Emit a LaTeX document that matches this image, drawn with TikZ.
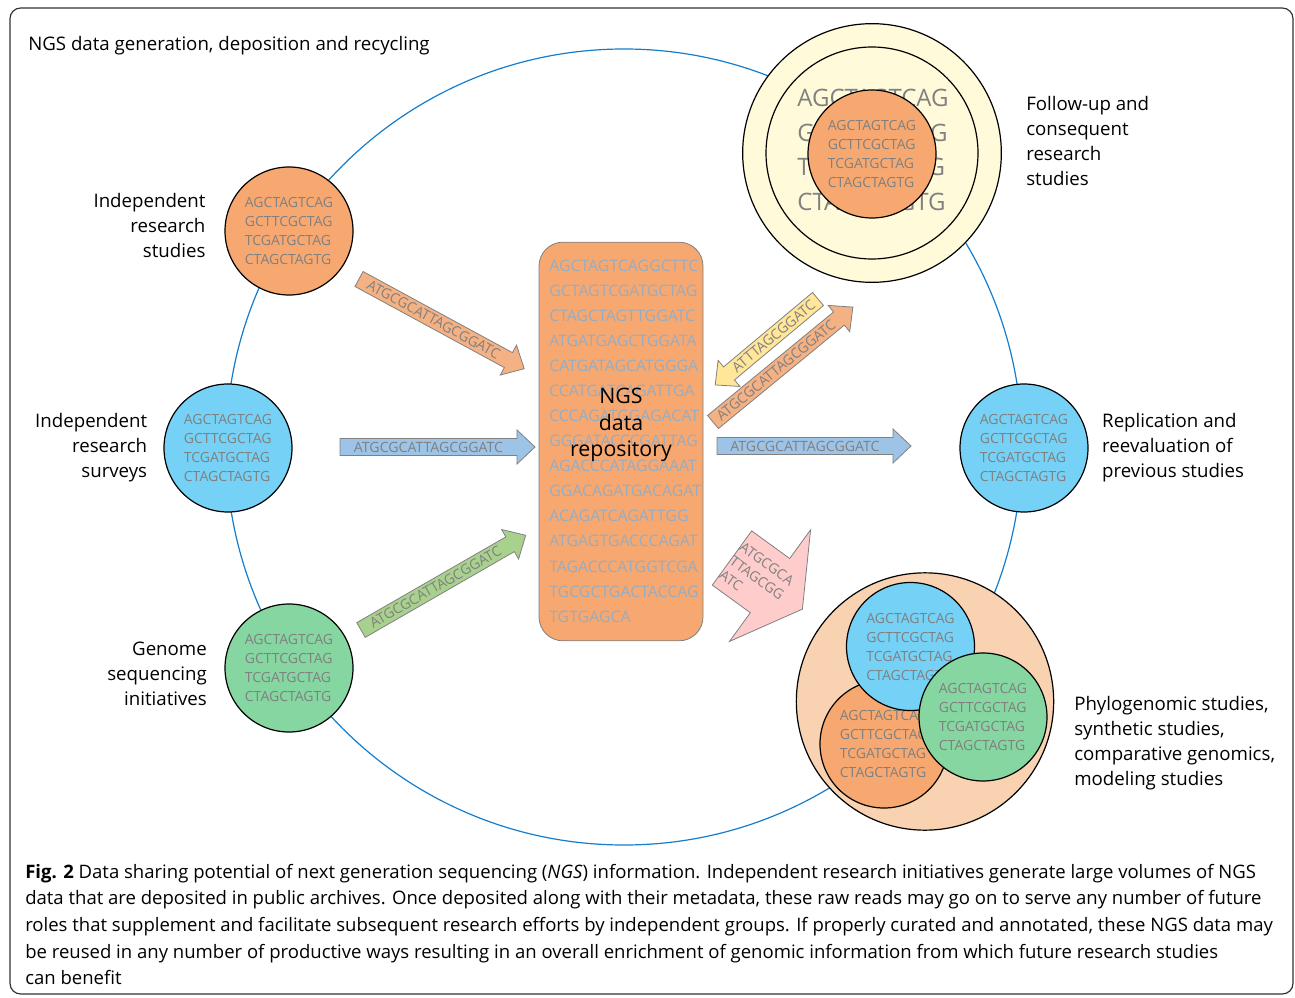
\documentclass[tikz,border=0pt]{standalone}
\usepackage{fontspec}
\setmainfont{Open Sans}
\usetikzlibrary{positioning}

\definecolor{ringblue}{RGB}{20,125,205}
\definecolor{discorange}{RGB}{246,168,112}
\definecolor{discblue}{RGB}{117,209,245}
\definecolor{discgreen}{RGB}{133,214,160}
\definecolor{paleyellow}{RGB}{255,250,218}
\definecolor{palepeach}{RGB}{249,210,178}
\definecolor{arrorange}{RGB}{244,177,131}
\definecolor{arrblue}{RGB}{157,195,230}
\definecolor{arrgreen}{RGB}{169,209,142}
\definecolor{arryellow}{RGB}{255,230,153}
\definecolor{arrpink}{RGB}{255,204,204}
\definecolor{seqgrey}{RGB}{128,128,128}
\definecolor{repotext}{RGB}{152,172,192}

\tikzset{
  seqdisc/.style={circle, draw=black, line width=0.9pt, minimum size=96pt,
    inner sep=0pt, align=left, text=seqgrey,
    font=\fontsize{10.5}{14.25}\selectfont},
  seqlabel/.style={font=\fontsize{14}{18.75}\selectfont, inner sep=0pt},
  arrowline/.style={draw=seqgrey, line width=0.6pt},
  arrowtext/.style={text=seqgrey, inner sep=0pt, font=\fontsize{10.6}{12}\selectfont},
}

% one read disc: name, x, y, fill
\NewDocumentCommand{\seqdisc}{mmmm}{%
\node[seqdisc, fill=#4] (#1) at (#2,#3) {AGCTAGTCAG\\GCTTCGCTAG\\TCGATGCTAG\\CTAGCTAGTG};%
}

% block arrow: name, tail, angle, length, fill, text, text turn
\NewDocumentCommand{\seqarrow}{mmmmmmO{0}}{%
\begin{scope}[shift={#2}, rotate=#3]
\draw[arrowline, fill=#5] (0,-8.5) -- ({#4-18},-8.5) -- ({#4-18},-17) -- (#4,0)
  -- ({#4-18},17) -- ({#4-18},8.5) -- (0,8.5) -- cycle;
\node[arrowtext, rotate={#3+#7}] (#1) at ({(#4-18)/2},0) {#6};
\end{scope}%
}

\begin{document}
\begin{tikzpicture}[x=0.75pt, y=-0.75pt]
\useasboundingbox (0,0) rectangle (1295,998);
\draw[line width=0.9pt, rounded corners=8pt, draw=black!80] (10,8) rectangle (1293,994);
\node[seqlabel, anchor=west] (title) at (28,46) {NGS data generation, deposition and recycling};

% the recycling ring
\draw[ringblue, line width=0.9pt] (624,447) circle (398);

% repository
\node[draw=seqgrey, line width=0.6pt, fill=discorange, rounded corners=18pt,
  minimum width=123pt, minimum height=299pt] (repo) at (621,441.5) {};
\node[anchor=west, inner sep=0pt, align=left, text=repotext,
  font=\fontsize{11.9}{18.8}\selectfont] (reposeq) at (549,441) {AGCTAGTCAGGCTTC\\GCTAGTCGATGCTAG\\CTAGCTAGTTGGATC\\ATGATGAGCTGGATA\\CATGATAGCATGGGA\\CCATGATCAGATTGA\\CCCAGATGGAGACAT\\GGGATACCCGATTAG\\AGACCCATAGGAAAT\\GGACAGATGACAGAT\\ACAGATCAGATTGG\\ATGAGTGACCCAGAT\\TAGACCCATGGTCGA\\TGCGCTGACTACCAG\\TGTGAGCA};
\node[align=center, inner sep=0pt, font=\fontsize{16}{20}\selectfont] (repolabel) at (621,425) {NGS\\data\\repository};

% sources
\seqdisc{studies}{289}{231}{discorange}
\seqdisc{surveys}{228}{448}{discblue}
\seqdisc{genome}{289}{668}{discgreen}
\node[seqlabel, align=right, left=14pt of studies, yshift=4pt] (studieslabel) {Independent\\research\\studies};
\node[seqlabel, align=right, left=12pt of surveys] (surveyslabel) {Independent\\research\\surveys};
\node[seqlabel, align=right, left=13pt of genome, yshift=-4pt] (genomelabel) {Genome\\sequencing\\initiatives};

% follow-up studies
\node[circle, draw=black, line width=0.9pt, fill=paleyellow, minimum size=194pt] (followout) at (872,153) {};
\node[circle, draw=black, line width=0.9pt, minimum size=159pt] (followmid) at (872,153) {};
\node[align=left, inner sep=0pt, text=seqgrey, font=\fontsize{18}{26}\selectfont] (followseq) at (873,150) {AGCTAGTCAG\\GCTTCGCTAG\\TCGATGCTAG\\CTAGCTAGTG};
\seqdisc{follow}{872}{154}{discorange}
\node[seqlabel, align=left, anchor=west] (followlabel) at (1026,141.5) {Follow-up and\\consequent\\research\\studies};

% replication
\seqdisc{replic}{1024}{448}{discblue}
\node[seqlabel, align=left, right=10pt of replic] (repliclabel) {Replication and\\reevaluation of\\previous studies};

% combined studies
\node[circle, draw=black, line width=0.9pt, fill=palepeach, minimum size=193pt] (phylo) at (925,701.5) {};
\seqdisc{phyloorange}{884}{744}{discorange}
\seqdisc{phyloblue}{910.5}{646.5}{discblue}
\seqdisc{phylogreen}{983}{717}{discgreen}
\node[seqlabel, align=left, anchor=west] (phylolabel) at (1074,743) {Phylogenomic studies,\\synthetic studies,\\comparative genomics,\\modeling studies};

% deposition arrows
\seqarrow{depstudies}{(359,279)}{-28.5}{188}{arrorange}{ATGCGCATTAGCGGATC}
\seqarrow{depsurveys}{(340,447)}{0}{195}{arrblue}{ATGCGCATTAGCGGATC}
\seqarrow{depgenome}{(361,630)}{29.9}{190}{arrgreen}{ATGCGCATTAGCGGATC}

% reuse arrows
\seqarrow{reuseback}{(818,299)}{-140.1}{134}{arryellow}{ATTTAGCGGATC}[180]
\seqarrow{reusefollow}{(713,422)}{39.4}{181}{arrorange}{ATGCGCATTAGCGGATC}
\seqarrow{reusereplic}{(717,446)}{0}{194}{arrblue}{ATGCGCATTAGCGGATC}

% wide arrow to the combined studies
\begin{scope}[shift={(732,558)}, rotate=-36]
\draw[arrowline, fill=arrpink] (0,-33.5) -- (47,-33.5) -- (47,-69) -- (87,0)
  -- (47,69) -- (47,33.5) -- (0,33.5) -- cycle;
\end{scope}
\node[arrowtext, align=left, rotate=-36, font=\fontsize{10.6}{13}\selectfont] (reusephylo) at (757,578) {ATGCGCA\\TTAGCGG\\ATC};

% caption
\node[anchor=north west, align=left, inner sep=0pt, font=\fontsize{13.9}{19.9}\selectfont] (caption) at (25,864) {\textbf{Fig. 2} Data sharing potential of next generation sequencing (\textit{NGS}) information. Independent research initiatives generate large volumes of NGS\\data that are deposited in public archives. Once deposited along with their metadata, these raw reads may go on to serve any number of future\\roles that supplement and facilitate subsequent research efforts by independent groups. If properly curated and annotated, these NGS data may\\be reused in any number of productive ways resulting in an overall enrichment of genomic information from which future research studies\\can benefit};
\end{tikzpicture}
\end{document}
